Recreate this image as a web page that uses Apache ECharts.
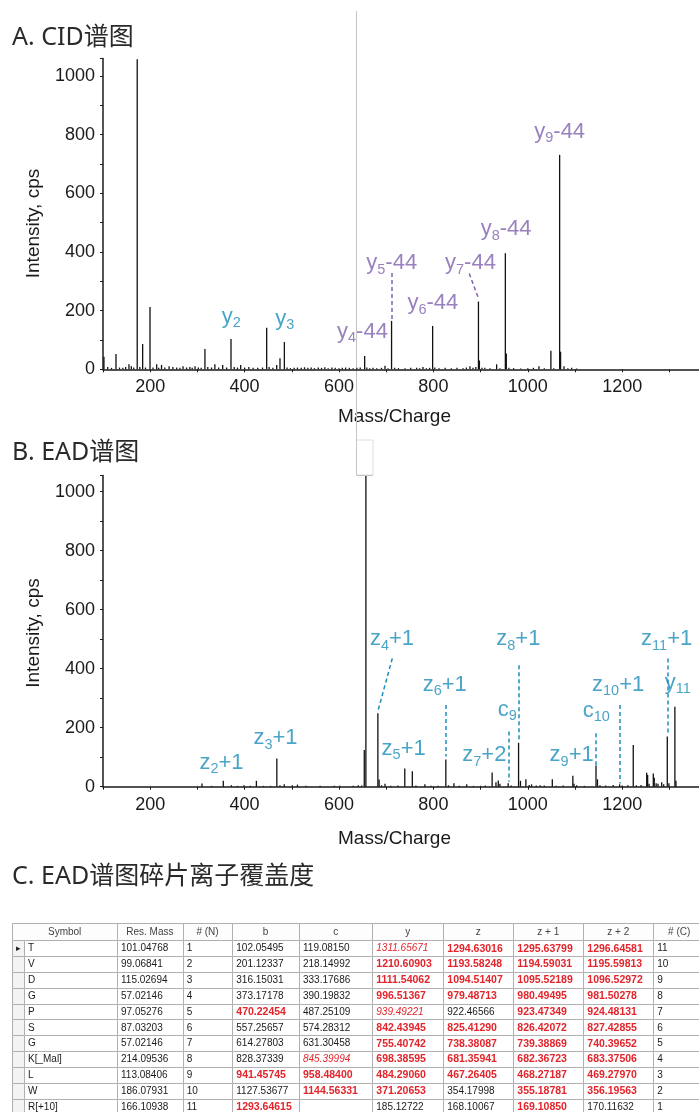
<!DOCTYPE html>
<html><head><meta charset="utf-8">
<script src="https://cdn.jsdelivr.net/npm/echarts@6/dist/echarts.min.js"></script>
<style>html,body{margin:0;padding:0;background:#fff}#c{width:699px;height:1112px}</style>
</head><body><div id="c"></div>
<script>
// ---------------- DATA ----------------
// Panel A: CID spectrum (m/z, intensity cps)
const cidMz  = [102,110,118,127.5,135,142,148,155,160,165,172.5,178,184,190,199.6,206,213.8,218,224,231,240,248,256,263,269.5,277,284,289,295,302,308,316,322,330,337,345,353.6,362,371.2,378,385,391.7,400,409,418,428,438,446.8,452,460,468,475,484.3,490,497,505,512,520,527,534,541,548,556,563,570,577,585,592,600,607,614,622,630,638,645,654.4,659,665,672,680,690,697.5,704,711.4,718,726,740,752,764.6,771,778,785,792,798.4,803,812,825,838,850,863,870,877.5,884,890,895.5,897.5,903,909,920,934,941,952.5,954.5,960,970,985,1000,1012,1023.7,1035,1049,1055,1067.5,1069.5,1076.7,1085,1093,1103.6];
const cidInt = [43,8,5,52,6,5,8,17,10,6,1057,8,86,6,212,6,17,5,15,6,10,8,6,5,10,6,8,5,10,6,5,69,8,6,17,6,15,6,103,8,6,15,6,8,5,5,6,142,8,5,15,38,93,6,4,5,6,5,7,5,6,4,6,5,7,4,6,5,4,5,6,5,4,5,6,45,6,4,5,4,5,12,4,165,5,4,4,5,5,4,8,4,5,148,6,4,5,4,5,4,6,10,5,8,231,30,5,5,4,17,4,396,54,5,4,3,4,5,10,4,63,4,731,60,10,4,5,3];

// Panel B: EAD spectrum
const eadMz  = [309.7,330,354.9,372,385,398.7,412,425,440,455,468.3,475,484,501,512,530,560,590,602,630,641,648,653.6,657,682.4,685,690,697.5,710,725,739.4,755.4,763,782,795,810,826.4,832,843.6,855,870.6,885,900,910,924.5,932.6,937.5,941,958.5,965,980.5,984.5,996,1003,1008,1018,1026,1035,1052,1060,1075,1095.5,1098,1103.6,1120,1144.6,1147.7,1153,1165,1181,1194.6,1200,1212,1223.5,1230,1240,1252,1254,1257,1266,1268,1272,1276,1283.7,1288,1295.6,1299,1311.7,1314];
const eadInt = [11,3,20,5,3,5,3,20,3,3,96,5,8,5,7,3,3,3,3,3,5,4,124,1053,249,24,5,10,3,4,62,52,4,8,3,3,92,5,12,3,8,3,3,4,48,15,21,10,12,4,149,20,25,6,8,4,5,4,25,3,4,37,10,5,3,72,25,5,4,6,8,4,5,141,5,6,47,40,10,45,30,12,10,15,8,170,12,271,20];

// Fragment annotations (text, anchor m/z, anchor intensity)
const cidLabelText = ['y2','y3','y4-44','y5-44','y6-44','y7-44','y8-44','y9-44'];
const cidLabelIon  = [0,0,1,1,1,1,1,1];            // 0 = y ion, 1 = y-44 ion
const cidLabelMz   = [371.6,485,649.8,711.7,799,878.6,954.2,1067.6];
const cidLabelInt  = [179,172,128,361,225,361,477,810];
const cidLeaders   = [[711.4,328,711.4,168],[876,327,894.5,246]];

const eadLabelText = ['z2+1','z3+1','z4+1','z5+1','z6+1','z7+2','c9','z8+1','z9+1','c10','z10+1','z11+1','y11'];
const eadLabelMz   = [351,465.5,712.3,737,824,908,956.4,980,1093,1145,1191.5,1294.3,1290];
const eadLabelInt  = [81,164,500,128,345,107,261,500,107,257,345,500,352];
const eadLeaders   = [[713,435,682,254],[825.2,277,825.2,102],[960,187,960,17],[981,412,981,153],[1143.8,181,1143.8,73],[1194,277,1194,11],[1296,435,1296,175]];

const xTickLabels = [200,400,600,800,1000,1200];
const yTickLabels = [0,200,400,600,800,1000];

// Panel C: fragment coverage table
const tableHeader = ['Symbol','Res. Mass','# (N)','b','c','y','z','z + 1','z + 2','# (C)'];
const residues = ['T','V','D','G','P','S','G','K[_Mal]','L','W','R[+10]'];
const resMass  = ['101.04768','99.06841','115.02694','57.02146','97.05276','87.03203','57.02146','214.09536','113.08406','186.07931','166.10938'];
const nIndex   = ['1','2','3','4','5','6','7','8','9','10','11'];
const bIons    = ['102.05495','201.12337','316.15031','373.17178','470.22454','557.25657','614.27803','828.37339','941.45745','1127.53677','1293.64615'];
const cIons    = ['119.08150','218.14992','333.17686','390.19832','487.25109','574.28312','631.30458','845.39994','958.48400','1144.56331',''];
const yIons    = ['1311.65671','1210.60903','1111.54062','996.51367','939.49221','842.43945','755.40742','698.38595','484.29060','371.20653','185.12722'];
const zIons    = ['1294.63016','1193.58248','1094.51407','979.48713','922.46566','825.41290','738.38087','681.35941','467.26405','354.17998','168.10067'];
const z1Ions   = ['1295.63799','1194.59031','1095.52189','980.49495','923.47349','826.42072','739.38869','682.36723','468.27187','355.18781','169.10850'];
const z2Ions   = ['1296.64581','1195.59813','1096.52972','981.50278','924.48131','827.42855','740.39652','683.37506','469.27970','356.19563','170.11632'];
const cIndex   = ['11','10','9','8','7','6','5','4','3','2','1'];
// match flags: 0 none, 1 matched, 2 matched (alternate)
const bMatch  = [0,0,0,0,1,0,0,0,1,0,1];
const cMatch  = [0,0,0,0,0,0,0,2,1,1,0];
const yMatch  = [2,1,1,1,2,1,1,1,1,1,0];
const zMatch  = [1,1,1,1,0,1,1,1,1,0,0];
const z1Match = [1,1,1,1,1,1,1,1,1,1,1];
const z2Match = [1,1,1,1,1,1,1,1,1,1,0];

// ---------------- LAYOUT / STYLE ----------------
const FONT = '"Liberation Sans", Arial, Helvetica, sans-serif';
const TITLE_FONT = '"Noto Sans", "Noto Sans CJK SC", sans-serif';
const CYAN = '#1c8dba', PURPLE = '#8062ae', RED = '#e3242b', INK = '#1a1a1a';
const colEdges = [12.3, 24, 117, 182.7, 232.3, 299, 372.3, 443.3, 513.3, 583.3, 653.3, 705];
const headerH = 17, rowH = 15.83, tableTop = 923.3;

function ionRich(s) {
  const m = s.match(/^([a-z])(\d+)(.*)$/);
  return '{m|' + m[1] + '}{s|' + m[2] + '}' + (m[3] ? '{m|' + m[3] + '}' : '');
}
function mkRich(color) {
  return {
    m: {fontSize: 22, lineHeight: 28, fontFamily: FONT, color: color},
    s: {fontSize: 14.5, lineHeight: 14, verticalAlign: 'bottom', fontFamily: FONT, color: color}
  };
}

function specAxes(gi, ymax) {
  const x = {
    type: 'value', gridIndex: gi, min: 100, max: 1370, interval: 100,
    axisLine: {show: true, onZero: false, lineStyle: {color: INK, width: 1.5}},
    axisTick: {show: true, length: 3, lineStyle: {color: INK, width: 1}},
    axisLabel: {fontSize: 18, color: INK, margin: 9, fontFamily: FONT,
      formatter: v => xTickLabels.indexOf(v) >= 0 ? String(v) : ''},
    splitLine: {show: false}
  };
  const y = {
    type: 'value', gridIndex: gi, min: 0, max: ymax, interval: 100,
    axisLine: {show: true, lineStyle: {color: INK, width: 1.5}},
    axisTick: {show: true, length: 3, lineStyle: {color: INK, width: 1}},
    axisLabel: {fontSize: 18, color: INK, margin: 8, fontFamily: FONT,
      formatter: v => yTickLabels.indexOf(v) >= 0 ? String(v) : ''},
    splitLine: {show: false}
  };
  return [x, y];
}

function barSeries(gi, mz, inten) {
  return {type: 'bar', xAxisIndex: gi, yAxisIndex: gi, barWidth: 1.3,
    data: mz.map((m, i) => [m, inten[i]]), itemStyle: {color: '#111'},
    silent: true, animation: false, z: 2};
}
function labelSeries(gi, texts, mz, inten, colorFn, alignFn) {
  return {type: 'scatter', xAxisIndex: gi, yAxisIndex: gi, symbolSize: 1,
    itemStyle: {color: 'rgba(0,0,0,0)'}, silent: true, animation: false, z: 5,
    data: texts.map((t, i) => {
      const c = colorFn(i);
      return {value: [mz[i], inten[i]], name: t,
        label: {color: c, rich: mkRich(c), align: alignFn(i)}};
    }),
    label: {show: true, position: 'inside', verticalAlign: 'middle',
      formatter: p => ionRich(p.name)}
  };
}
function leaderSeries(gi, leaders, color) {
  return {type: 'lines', coordinateSystem: 'cartesian2d', xAxisIndex: gi, yAxisIndex: gi,
    polyline: false, silent: true, animation: false, z: 4,
    data: leaders.map(l => ({coords: [[l[0], l[1]], [l[2], l[3]]]})),
    lineStyle: {color: color, width: 1.5, type: [4, 3], opacity: 1}};
}

// table cells
const cells = [];
tableHeader.forEach((h, c) => cells.push({c: c + 1, r: 0, t: h, f: 'h'}));
for (let r = 1; r <= residues.length; r++) cells.push({c: 0, r: r, t: r === 1 ? '▸' : '', f: 'ind'});
const bodyCols = [residues, resMass, nIndex, bIons, cIons, yIons, zIons, z1Ions, z2Ions, cIndex];
const bodyMatch = [null, null, null, bMatch, cMatch, yMatch, zMatch, z1Match, z2Match, null];
bodyCols.forEach((col, ci) => col.forEach((v, ri) => {
  const m = bodyMatch[ci] ? bodyMatch[ci][ri] : 0;
  cells.push({c: ci + 1, r: ri + 1, t: v, f: m === 1 ? 'red' : (m === 2 ? 'redi' : 'n')});
}));

const chart = echarts.init(document.getElementById('c'), null, {renderer: 'canvas'});
const [xa, ya] = specAxes(0, 1060);
const [xb, yb] = specAxes(1, 1055);

chart.setOption({
  animation: false,
  backgroundColor: '#fff',
  grid: [
    {left: 103, top: 58.4, width: 599.4, height: 310.9, outerBoundsMode: 'none', containLabel: false},
    {left: 103, top: 475.5, width: 599.4, height: 311.2, outerBoundsMode: 'none', containLabel: false},
    {left: 0, top: tableTop, width: 699, height: 200, outerBoundsMode: 'none', containLabel: false}
  ],
  xAxis: [xa, xb, {type: 'value', gridIndex: 2, min: 0, max: 699, show: false}],
  yAxis: [ya, yb, {type: 'value', gridIndex: 2, min: 0, max: 200, inverse: true, show: false}],
  series: [
    barSeries(0, cidMz, cidInt),
    leaderSeries(0, cidLeaders, PURPLE),
    labelSeries(0, cidLabelText, cidLabelMz, cidLabelInt, i => cidLabelIon[i] ? PURPLE : CYAN, i => 'center'),
    barSeries(1, eadMz, eadInt),
    leaderSeries(1, eadLeaders, CYAN),
    labelSeries(1, eadLabelText, eadLabelMz, eadLabelInt, i => CYAN, i => eadLabelText[i] === 'y11' ? 'left' : 'center'),
    {
      type: 'custom', xAxisIndex: 2, yAxisIndex: 2, silent: true, animation: false,
      data: cells.map(d => [d.c, d.r]),
      renderItem: (params, api) => {
        const cell = cells[params.dataIndex];
        const c = api.value(0), r = api.value(1);
        const x0 = (r === 0 && c === 1) ? colEdges[0] : colEdges[c];
        const x1 = colEdges[c + 1];
        const y0 = r === 0 ? 0 : headerH + (r - 1) * rowH;
        const y1 = r === 0 ? headerH : headerH + r * rowH;
        const p0 = api.coord([x0, y0]), p1 = api.coord([x1, y1]);
        const rx = Math.round(p0[0]) + 0.5, ry = Math.round(p0[1]) + 0.5;
        const rw = Math.round(p1[0]) - Math.round(p0[0]), rh = Math.round(p1[1]) - Math.round(p0[1]);
        let fill = INK, weight = 'normal', fstyle = 'normal', size = 10, align = 'left', tx = p0[0] + 4;
        let bg = '#fff';
        if (cell.f === 'h') { fill = '#444'; align = 'center'; tx = (p0[0] + p1[0]) / 2; bg = '#fdfdfd'; }
        else if (cell.f === 'ind') { align = 'center'; tx = (p0[0] + p1[0]) / 2; size = 9; bg = '#f3f3f3'; }
        else if (cell.f === 'red') { fill = RED; weight = 'bold'; size = 10.5; }
        else if (cell.f === 'redi') { fill = RED; fstyle = 'italic'; }
        return {type: 'group', children: [
          {type: 'rect', shape: {x: rx, y: ry, width: rw, height: rh},
            style: {fill: bg, stroke: '#b0b0b0', lineWidth: 1}},
          {type: 'text', style: {text: cell.t, x: tx, y: (p0[1] + p1[1]) / 2 + 0.5,
            fill: fill, fontSize: size, fontWeight: weight, fontStyle: fstyle,
            fontFamily: FONT, align: align, verticalAlign: 'middle'}}
        ]};
      }
    }
  ],
  graphic: [
    {type: 'text', x: 12, y: 37.5, style: {text: 'A. CID谱图', fontSize: 25, fontFamily: TITLE_FONT, fill: '#2a2a2a', verticalAlign: 'middle'}},
    {type: 'text', x: 12, y: 453, style: {text: 'B. EAD谱图', fontSize: 25, fontFamily: TITLE_FONT, fill: '#2a2a2a', verticalAlign: 'middle'}},
    {type: 'text', x: 12, y: 877, style: {text: 'C. EAD谱图碎片离子覆盖度', fontSize: 25, fontFamily: TITLE_FONT, fill: '#2a2a2a', verticalAlign: 'middle'}},
    {type: 'text', x: 34, y: 223.5, rotation: Math.PI / 2, style: {text: 'Intensity, cps', fontSize: 19, fontFamily: FONT, fill: INK, align: 'center', verticalAlign: 'middle'}},
    {type: 'text', x: 34, y: 633, rotation: Math.PI / 2, style: {text: 'Intensity, cps', fontSize: 19, fontFamily: FONT, fill: INK, align: 'center', verticalAlign: 'middle'}},
    {type: 'text', x: 394.5, y: 416.7, style: {text: 'Mass/Charge', fontSize: 19, fontFamily: FONT, fill: INK, align: 'center', verticalAlign: 'middle'}},
    {type: 'text', x: 394.5, y: 838.3, style: {text: 'Mass/Charge', fontSize: 19, fontFamily: FONT, fill: INK, align: 'center', verticalAlign: 'middle'}},
    {type: 'rect', shape: {x: 356.5, y: 440, width: 16.5, height: 35}, style: {fill: '#fff', stroke: '#dedede', lineWidth: 1}},
    {type: 'polyline', shape: {points: [[356.5, 11], [356.5, 475.5], [373, 475.5]]}, style: {stroke: '#c4c4c4', lineWidth: 1, fill: null}}
  ]
});
</script>
</body></html>
